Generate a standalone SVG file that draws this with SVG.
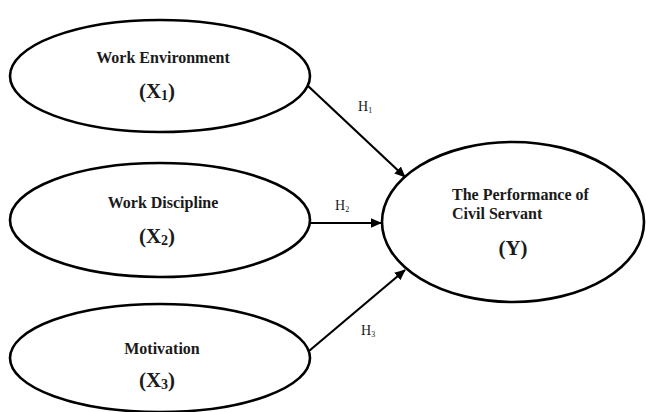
<svg xmlns="http://www.w3.org/2000/svg" width="646" height="412" viewBox="0 0 646 412">
<style>
.node{fill:#fff;stroke:#000;stroke-width:2.6}
.lbl{font-family:"Liberation Serif","Times New Roman",serif;font-weight:bold;font-size:16px;fill:#1a1a1a}
.var{font-family:"Liberation Serif","Times New Roman",serif;font-weight:bold;font-size:21px;fill:#1a1a1a}
.h{font-family:"Liberation Serif","Times New Roman",serif;font-size:14px;fill:#1a1a1a}
.conn{stroke:#000;stroke-width:2.2;fill:none}
</style>
<defs>
<marker id="arr" markerWidth="5" markerHeight="4.4" refX="4.6" refY="2.2" orient="auto" markerUnits="strokeWidth">
<path d="M0,0 L5,2.2 L0,4.4 z" fill="#000"/>
</marker>
</defs>
<rect width="646" height="412" fill="#fff"/>
<g id="connectors">
<line class="conn" x1="307" y1="85" x2="405" y2="177" marker-end="url(#arr)"/>
<line class="conn" x1="310" y1="223" x2="381" y2="223" marker-end="url(#arr)"/>
<line class="conn" x1="309" y1="351" x2="405" y2="270" marker-end="url(#arr)"/>
<text class="h" x="358" y="111">H<tspan font-size="8" dy="2">1</tspan></text>
<text class="h" x="335" y="210">H<tspan font-size="8" dy="2">2</tspan></text>
<text class="h" x="361" y="335">H<tspan font-size="8" dy="2">3</tspan></text>
</g>
<g id="x1">
<ellipse class="node" cx="160" cy="76" rx="150" ry="56"/>
<text class="lbl" x="163" y="63" text-anchor="middle">Work Environment</text>
<text class="var" x="157" y="98" text-anchor="middle">(X<tspan font-size="14" dy="2">1</tspan><tspan dy="-2">)</tspan></text>
</g>
<g id="x2">
<ellipse class="node" cx="160" cy="220" rx="150" ry="57"/>
<text class="lbl" x="163" y="208" text-anchor="middle">Work Discipline</text>
<text class="var" x="157" y="243" text-anchor="middle">(X<tspan font-size="14" dy="2">2</tspan><tspan dy="-2">)</tspan></text>
</g>
<g id="x3">
<ellipse class="node" cx="160" cy="358" rx="150" ry="54"/>
<text class="lbl" x="162" y="354" text-anchor="middle">Motivation</text>
<text class="var" x="157" y="387" text-anchor="middle">(X<tspan font-size="14" dy="2">3</tspan><tspan dy="-2">)</tspan></text>
</g>
<g id="y">
<ellipse class="node" cx="513" cy="222" rx="131" ry="80"/>
<text class="lbl" x="452" y="200">The Performance of</text>
<text class="lbl" x="452" y="219">Civil Servant</text>
<text class="var" x="513" y="255" text-anchor="middle">(Y)</text>
</g>
</svg>
